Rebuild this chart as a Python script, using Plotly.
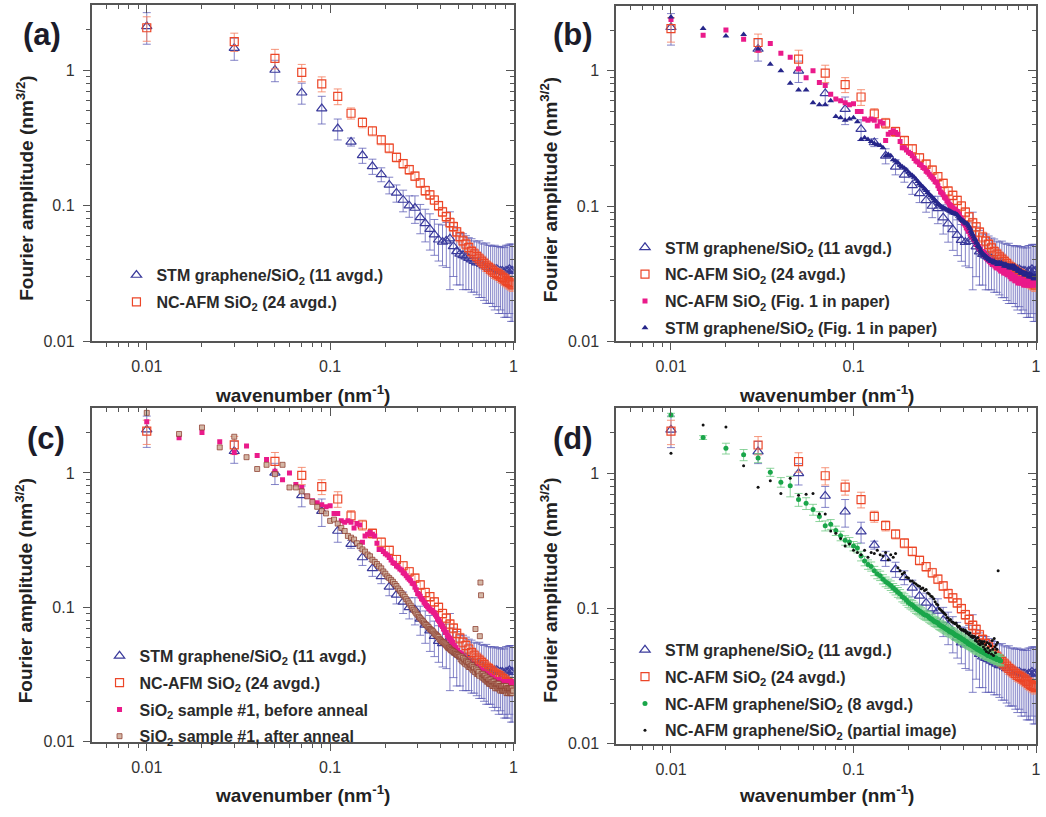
import numpy as np
import plotly.graph_objects as go

# ---------------- data ----------------
# averaged spectra: wavenumber grid every 0.02 nm^-1
k_avg = np.round(np.arange(0.01, 1.0, 0.02), 3)

stm_avg = [2.1, 1.45, 1.0, 0.68, 0.52, 0.37, 0.295, 0.235, 0.195, 0.17,
           0.142, 0.124, 0.11, 0.1, 0.096, 0.082, 0.074, 0.067, 0.061, 0.056,
           0.054, 0.055, 0.057, 0.05, 0.046, 0.044, 0.043, 0.042, 0.041, 0.04,
           0.039, 0.038, 0.038, 0.037, 0.036, 0.036, 0.035, 0.035, 0.034, 0.034,
           0.034, 0.033, 0.033, 0.033, 0.032, 0.033, 0.033, 0.034, 0.033, 0.033]
stm_err = [0.55, 0.27, 0.18, 0.12, 0.12, 0.065, 0.02, 0.03, 0.025, 0.02,
           0.02, 0.018, 0.02, 0.018, 0.022, 0.02, 0.02, 0.02, 0.018, 0.017,
           0.018, 0.02, 0.033, 0.02, 0.02, 0.018, 0.019, 0.018, 0.017, 0.017,
           0.016, 0.016, 0.017, 0.016, 0.016, 0.017, 0.016, 0.016, 0.016, 0.017,
           0.016, 0.017, 0.016, 0.017, 0.017, 0.018, 0.018, 0.018, 0.019, 0.019]

afm_avg = [2.05, 1.62, 1.22, 0.96, 0.79, 0.64, 0.48, 0.41, 0.355, 0.305,
           0.265, 0.227, 0.204, 0.184, 0.165, 0.147, 0.129, 0.12, 0.11, 0.1,
           0.09, 0.083, 0.075, 0.07, 0.064, 0.059, 0.055, 0.052, 0.049, 0.046,
           0.044, 0.042, 0.0405, 0.039, 0.0375, 0.036, 0.035, 0.034, 0.033, 0.032,
           0.0315, 0.031, 0.0302, 0.0295, 0.0288, 0.028, 0.0275, 0.027, 0.0265, 0.026]
afm_err = [0.42, 0.25, 0.2, 0.14, 0.1, 0.085, 0.045, 0.035, 0.028, 0.024,
           0.02, 0.017, 0.015, 0.014, 0.012, 0.011, 0.01, 0.009, 0.008, 0.0075,
           0.007, 0.0065, 0.006, 0.0055, 0.005, 0.005, 0.0045, 0.0045, 0.0042, 0.004,
           0.004, 0.0038, 0.0036, 0.0035, 0.0034, 0.0033, 0.0032, 0.0031, 0.003, 0.003,
           0.003, 0.003, 0.003, 0.0029, 0.0029, 0.0028, 0.0028, 0.0028, 0.0027, 0.0027]

# single-image spectra: wavenumber grid every 0.005 nm^-1
k_fine = np.round(np.arange(0.01, 0.9975, 0.005), 4)

afm_fig1 = [2.4, 1.83, 2.0, 1.71, 1.42, 1.59, 1.35, 1.26, 1.03, 0.89,
            1.0, 0.82, 0.78, 0.67, 0.62, 0.60, 0.58, 0.56, 0.57, 0.50,
            0.50, 0.44, 0.43, 0.44, 0.43, 0.39, 0.42, 0.41, 0.305, 0.34,
            0.35, 0.36, 0.35, 0.34, 0.30, 0.27, 0.27, 0.26, 0.25, 0.245,
            0.235, 0.225, 0.215, 0.212, 0.203, 0.20, 0.193, 0.19, 0.181, 0.178,
            0.172, 0.166, 0.162, 0.158, 0.151, 0.15, 0.141, 0.135, 0.127, 0.125,
            0.121, 0.116, 0.114, 0.109, 0.107, 0.103, 0.101, 0.098, 0.097, 0.094,
            0.095, 0.092, 0.091, 0.088, 0.086, 0.082, 0.08, 0.078, 0.075, 0.074,
            0.072, 0.069, 0.068, 0.065, 0.065, 0.062, 0.061, 0.059, 0.059, 0.057,
            0.056, 0.055, 0.052, 0.052, 0.05, 0.05, 0.048, 0.048, 0.046, 0.046,
            0.046, 0.044, 0.045, 0.043, 0.043, 0.041, 0.042, 0.04, 0.04, 0.039,
            0.04, 0.038, 0.039, 0.037, 0.038, 0.037, 0.037, 0.036, 0.037, 0.035,
            0.036, 0.035, 0.035, 0.036, 0.034, 0.035, 0.033, 0.035, 0.034, 0.033,
            0.034, 0.032, 0.034, 0.033, 0.032, 0.032, 0.033, 0.031, 0.032, 0.032,
            0.031, 0.032, 0.030, 0.031, 0.031, 0.029, 0.031, 0.03, 0.029, 0.03,
            0.03, 0.028, 0.03, 0.029, 0.028, 0.029, 0.029, 0.027, 0.029, 0.028,
            0.029, 0.027, 0.029, 0.028, 0.027, 0.029, 0.028, 0.027, 0.028, 0.026,
            0.028, 0.028, 0.026, 0.028, 0.027, 0.028, 0.026, 0.027, 0.028, 0.026,
            0.027, 0.028, 0.026, 0.027, 0.028, 0.026, 0.027, 0.028, 0.026, 0.027,
            0.028, 0.026, 0.028, 0.027, 0.028, 0.026, 0.027, 0.028]

stm_fig1 = [2.5, 2.06, 1.81, 1.86, 1.45, 1.12, 1.0, 0.81, 0.72, 0.72,
            0.58, 0.56, 0.56, 0.60, 0.46, 0.45, 0.43, 0.44, 0.45, 0.42,
            0.31, 0.32, 0.31, 0.30, 0.29, 0.285, 0.28, 0.27, 0.234, 0.24,
            0.235, 0.22, 0.215, 0.21, 0.2, 0.195, 0.19, 0.185, 0.178, 0.172,
            0.168, 0.163, 0.158, 0.152, 0.147, 0.142, 0.138, 0.134, 0.13, 0.126,
            0.122, 0.119, 0.116, 0.113, 0.11, 0.107, 0.104, 0.102, 0.1, 0.098,
            0.097, 0.096, 0.095, 0.094, 0.093, 0.092, 0.091, 0.09, 0.089, 0.088,
            0.088, 0.087, 0.086, 0.084, 0.082, 0.081, 0.079, 0.078, 0.077, 0.076,
            0.075, 0.074, 0.074, 0.072, 0.07, 0.068, 0.065, 0.063, 0.061, 0.059,
            0.057, 0.056, 0.054, 0.053, 0.051, 0.05, 0.049, 0.047, 0.046, 0.045,
            0.044, 0.044, 0.043, 0.043, 0.042, 0.042, 0.041, 0.041, 0.04, 0.04,
            0.04, 0.039, 0.039, 0.039, 0.039, 0.038, 0.039, 0.038, 0.038, 0.038,
            0.038, 0.037, 0.038, 0.037, 0.038, 0.037, 0.037, 0.038, 0.037, 0.037,
            0.037, 0.037, 0.036, 0.037, 0.036, 0.037, 0.036, 0.036, 0.036, 0.036,
            0.036, 0.035, 0.036, 0.035, 0.036, 0.035, 0.035, 0.036, 0.035, 0.035,
            0.036, 0.035, 0.034, 0.035, 0.034, 0.034, 0.034, 0.033, 0.034, 0.033,
            0.033, 0.033, 0.033, 0.032, 0.033, 0.032, 0.032, 0.032, 0.032, 0.032,
            0.032, 0.031, 0.032, 0.031, 0.031, 0.032, 0.031, 0.031, 0.031, 0.031,
            0.031, 0.03, 0.031, 0.03, 0.031, 0.03, 0.03, 0.031, 0.03, 0.03,
            0.03, 0.03, 0.029, 0.03, 0.03, 0.029, 0.03, 0.03]

afm_annealed = [2.8, 1.95, 2.18, 1.55, 1.86, 1.31, 1.07, 1.15, 0.98, 1.15,
                0.78, 0.78, 0.73, 0.67, 0.61, 0.56, 0.52, 0.5, 0.44, 0.45,
                0.42, 0.39, 0.37, 0.34, 0.33, 0.32, 0.3, 0.285, 0.27, 0.26,
                0.247, 0.24, 0.226, 0.218, 0.21, 0.202, 0.195, 0.185, 0.178, 0.17,
                0.165, 0.16, 0.155, 0.149, 0.144, 0.138, 0.133, 0.128, 0.124, 0.12,
                0.115, 0.111, 0.107, 0.103, 0.099, 0.096, 0.093, 0.09, 0.088, 0.085,
                0.083, 0.081, 0.079, 0.077, 0.075, 0.074, 0.072, 0.071, 0.069, 0.068,
                0.067, 0.066, 0.064, 0.063, 0.062, 0.061, 0.06, 0.058, 0.057, 0.056,
                0.055, 0.055, 0.054, 0.053, 0.052, 0.051, 0.05, 0.05, 0.049, 0.048,
                0.048, 0.047, 0.047, 0.046, 0.046, 0.045, 0.045, 0.044, 0.044, 0.043,
                0.043, 0.041, 0.043, 0.04, 0.042, 0.039, 0.041, 0.038, 0.04, 0.039,
                0.037, 0.039, 0.036, 0.038, 0.036, 0.037, 0.035, 0.037, 0.034, 0.036,
                0.035, 0.033, 0.069, 0.035, 0.032, 0.034, 0.032, 0.033, 0.031, 0.061,
                0.153, 0.123, 0.032, 0.03, 0.032, 0.03, 0.031, 0.029, 0.031, 0.029,
                0.03, 0.028, 0.03, 0.028, 0.029, 0.027, 0.029, 0.027, 0.029, 0.027,
                0.028, 0.026, 0.028, 0.026, 0.028, 0.026, 0.027, 0.025, 0.027, 0.026,
                0.027, 0.025, 0.027, 0.025, 0.027, 0.025, 0.026, 0.024, 0.026, 0.025,
                0.026, 0.024, 0.026, 0.024, 0.026, 0.024, 0.026, 0.024, 0.025, 0.024,
                0.026, 0.023, 0.025, 0.024, 0.025, 0.023, 0.025, 0.024, 0.025, 0.023,
                0.025, 0.023, 0.025, 0.023, 0.025, 0.023, 0.024, 0.024]

# NC-AFM graphene/SiO2 (8 averaged), wavenumbers 0.01 ... 0.64
k_gr = np.round(np.arange(0.01, 0.6425, 0.005), 4)
gr_avg = [2.7, 1.84, 1.53, 1.37, 1.3, 1.02, 0.86, 0.81, 0.64, 0.6,
          0.54, 0.48, 0.41, 0.42, 0.377, 0.345, 0.32, 0.31, 0.29, 0.28,
          0.245, 0.225, 0.212, 0.205, 0.19, 0.18, 0.175, 0.165, 0.158, 0.153,
          0.148, 0.142, 0.137, 0.132, 0.128, 0.122, 0.119, 0.115, 0.111, 0.108,
          0.106, 0.103, 0.1, 0.098, 0.096, 0.094, 0.092, 0.09, 0.089, 0.088,
          0.086, 0.084, 0.083, 0.081, 0.08, 0.079, 0.078, 0.076, 0.075, 0.074,
          0.073, 0.072, 0.071, 0.07, 0.069, 0.068, 0.067, 0.067, 0.066, 0.065,
          0.064, 0.063, 0.063, 0.062, 0.061, 0.061, 0.06, 0.059, 0.059, 0.058,
          0.057, 0.057, 0.056, 0.055, 0.055, 0.054, 0.054, 0.053, 0.053, 0.052,
          0.052, 0.051, 0.051, 0.05, 0.05, 0.05, 0.049, 0.049, 0.048, 0.048,
          0.048, 0.047, 0.047, 0.047, 0.046, 0.046, 0.046, 0.045, 0.045, 0.045,
          0.045, 0.044, 0.044, 0.044, 0.044, 0.043, 0.043, 0.043, 0.043, 0.043,
          0.042, 0.042, 0.042, 0.042, 0.042, 0.041, 0.041]
gr_err = [0.08, 0.06, 0.14, 0.13, 0.1, 0.07, 0.07, 0.14, 0.07, 0.06,
          0.05, 0.04, 0.035, 0.035, 0.03, 0.028, 0.026, 0.025, 0.023, 0.022,
          0.02, 0.018, 0.017, 0.016, 0.015, 0.014, 0.014, 0.013, 0.013, 0.012,
          0.012, 0.011, 0.011, 0.011, 0.01, 0.01, 0.0095, 0.0092, 0.009, 0.0087,
          0.0085, 0.0083, 0.008, 0.0078, 0.0077, 0.0075, 0.0074, 0.0072, 0.0071, 0.007,
          0.0069, 0.0067, 0.0066, 0.0065, 0.0064, 0.0063, 0.0062, 0.0061, 0.006, 0.0059,
          0.0058, 0.0058, 0.0057, 0.0056, 0.0055, 0.0054, 0.0054, 0.0054, 0.0053, 0.0052,
          0.0051, 0.005, 0.005, 0.005, 0.0049, 0.0049, 0.0048, 0.0047, 0.0047, 0.0046,
          0.0046, 0.0046, 0.0045, 0.0044, 0.0044, 0.0043, 0.0043, 0.0042, 0.0042, 0.0042,
          0.0042, 0.0041, 0.0041, 0.004, 0.004, 0.004, 0.0039, 0.0039, 0.0038, 0.0038,
          0.0038, 0.0038, 0.0038, 0.0038, 0.0037, 0.0037, 0.0037, 0.0036, 0.0036, 0.0036,
          0.0036, 0.0035, 0.0035, 0.0035, 0.0035, 0.0034, 0.0034, 0.0034, 0.0034, 0.0034,
          0.0034, 0.0034, 0.0034, 0.0034, 0.0034, 0.0033, 0.0033]

# NC-AFM graphene/SiO2 partial image, wavenumbers 0.01 ... 0.62
k_part = np.round(np.arange(0.01, 0.6225, 0.005), 4)
gr_partial = [1.41, 2.28, 2.2, 1.14, 0.79, 0.88, 0.71, 0.92, 0.69, 0.7,
              0.71, 0.5, 0.5, 0.375, 0.36, 0.33, 0.29, 0.3, 0.27, 0.26,
              0.25, 0.27, 0.24, 0.26, 0.255, 0.27, 0.25, 0.245, 0.26, 0.23,
              0.25, 0.24, 0.255, 0.2, 0.19, 0.18, 0.185, 0.17, 0.168, 0.16,
              0.16, 0.155, 0.152, 0.148, 0.146, 0.14, 0.142, 0.136, 0.138, 0.13,
              0.128, 0.124, 0.122, 0.118, 0.112, 0.108, 0.106, 0.1, 0.098, 0.096,
              0.094, 0.092, 0.09, 0.086, 0.085, 0.082, 0.083, 0.08, 0.079, 0.078,
              0.077, 0.078, 0.075, 0.073, 0.074, 0.071, 0.07, 0.069, 0.07, 0.068,
              0.069, 0.066, 0.067, 0.065, 0.064, 0.066, 0.062, 0.063, 0.061, 0.062,
              0.062, 0.058, 0.06, 0.057, 0.061, 0.055, 0.058, 0.054, 0.056, 0.057,
              0.055, 0.052, 0.057, 0.05, 0.054, 0.048, 0.056, 0.051, 0.047, 0.055,
              0.049, 0.053, 0.046, 0.058, 0.05, 0.045, 0.06, 0.052, 0.047, 0.054,
              0.05, 0.056, 0.19]

# ---------------- styling ----------------
FONT = "Liberation Sans, Arial, sans-serif"
AXIS_C = "#555555"
STM_C, STM_EC = "#3b3b9c", "rgba(90,90,180,0.75)"
AFM_C, AFM_EC = "#ec4628", "rgba(244,130,100,0.85)"
PINK_C = "#ea1a8a"
BLUE_C = "#26268a"
GREEN_C, GREEN_EC = "#1aa64a", "rgba(110,200,130,0.8)"

X_RANGE = [np.log10(0.005), 0]
Y_RANGE = [-2, 0.48]

domains = {
    1: ([92 / 1046, 516 / 1046], [1 - 345 / 817, 1 - 5 / 817]),
    2: ([619 / 1046, 1041 / 1046], [1 - 345 / 817, 1 - 6 / 817]),
    3: ([92 / 1046, 516 / 1046], [1 - 750 / 817, 1 - 413 / 817]),
    4: ([619 / 1046, 1041 / 1046], [1 - 752 / 817, 1 - 413 / 817]),
}

x_minor = [0.006, 0.007, 0.008, 0.009] + [m / 100 for m in range(2, 10)] + [m / 10 for m in range(2, 10)]
y_minor = [m / 100 for m in range(2, 10)] + [m / 10 for m in range(2, 10)] + [2]
majors = [0.01, 0.1, 1]
major_text = ["0.01", "0.1", "1"]

fig = go.Figure()


def sfx(i):
    return "" if i == 1 else str(i)


def add_stm_avg(i):
    fig.add_trace(go.Scatter(
        x=k_avg, y=stm_avg, mode="markers",
        error_y=dict(type="data", array=stm_err, color=STM_EC, thickness=1, width=4),
        marker=dict(symbol="triangle-up-open", size=9, color=STM_C, line=dict(width=1.2)),
        name="STM graphene/SiO<sub>2</sub> (11 avgd.)",
        xaxis="x" + sfx(i), yaxis="y" + sfx(i), legend="legend" + sfx(i),
        legendgroup="stm%d" % i))


def add_afm_avg(i):
    fig.add_trace(go.Scatter(
        x=k_avg, y=afm_avg, mode="markers",
        error_y=dict(type="data", array=afm_err, color=AFM_EC, thickness=1, width=4),
        marker=dict(symbol="square-open", size=8, color=AFM_C, line=dict(width=1.2)),
        name="NC-AFM SiO<sub>2</sub> (24 avgd.)",
        xaxis="x" + sfx(i), yaxis="y" + sfx(i), legend="legend" + sfx(i),
        legendgroup="afm%d" % i))


def add_points(i, x, y, name, marker, err=None, errc=None):
    kw = {}
    if err is not None:
        kw["error_y"] = dict(type="data", array=err, color=errc, thickness=1, width=4)
    fig.add_trace(go.Scatter(
        x=x, y=y, mode="markers", marker=marker, name=name,
        xaxis="x" + sfx(i), yaxis="y" + sfx(i), legend="legend" + sfx(i),
        legendgroup=name + str(i), **kw))


# (a)
add_stm_avg(1)
add_afm_avg(1)
# (b)
add_stm_avg(2)
add_afm_avg(2)
add_points(2, k_fine, afm_fig1, "NC-AFM SiO<sub>2</sub> (Fig. 1 in paper)",
           dict(symbol="square", size=5, color=PINK_C))
add_points(2, k_fine, stm_fig1, "STM graphene/SiO<sub>2</sub> (Fig. 1 in paper)",
           dict(symbol="triangle-up", size=6, color=BLUE_C))
# (c)
add_stm_avg(3)
add_afm_avg(3)
add_points(3, k_fine, afm_fig1, "SiO<sub>2</sub> sample #1, before anneal",
           dict(symbol="square", size=5, color=PINK_C))
add_points(3, k_fine, afm_annealed, "SiO<sub>2</sub> sample #1, after anneal",
           dict(symbol="square", size=5, color="rgba(205,170,150,0.85)",
                line=dict(width=1, color="rgba(140,60,45,0.75)")))
# (d)
add_stm_avg(4)
add_afm_avg(4)
add_points(4, k_gr, gr_avg, "NC-AFM graphene/SiO<sub>2</sub> (8 avgd.)",
           dict(symbol="circle", size=5, color=GREEN_C), err=gr_err, errc=GREEN_EC)
add_points(4, k_part, gr_partial, "NC-AFM graphene/SiO<sub>2</sub> (partial image)",
           dict(symbol="circle", size=3, color="#111111"))

layout = dict(
    width=1046, height=817, margin=dict(l=0, r=0, t=0, b=0),
    paper_bgcolor="white", plot_bgcolor="white",
    font=dict(family=FONT, color="#1a1a1a"),
    showlegend=True,
)

tickfont = dict(family=FONT, size=16, color="#333333")
for i in range(1, 5):
    xd, yd = domains[i]
    layout["xaxis" + sfx(i)] = dict(
        domain=xd, anchor="y" + sfx(i), type="log", range=X_RANGE,
        showline=True, linecolor=AXIS_C, linewidth=1.6, mirror=True,
        ticks="outside", ticklen=7, tickwidth=1.2, tickcolor=AXIS_C,
        tickvals=majors, ticktext=major_text, tickfont=tickfont,
        ticklabelstandoff=3,
        minor=dict(tickmode="array", tickvals=x_minor, ticks="outside",
                   ticklen=4, tickwidth=1, tickcolor=AXIS_C, showgrid=False),
        showgrid=False, zeroline=False, fixedrange=True)
    layout["yaxis" + sfx(i)] = dict(
        domain=yd, anchor="x" + sfx(i), type="log", range=Y_RANGE,
        showline=True, linecolor=AXIS_C, linewidth=1.6, mirror=True,
        ticks="outside", ticklen=7, tickwidth=1.2, tickcolor=AXIS_C,
        tickvals=majors, ticktext=major_text, tickfont=tickfont,
        ticklabelstandoff=5,
        minor=dict(tickmode="array", tickvals=y_minor, ticks="outside",
                   ticklen=4, tickwidth=1, tickcolor=AXIS_C, showgrid=False),
        showgrid=False, zeroline=False, fixedrange=True)
    # inward ticks along the top and right frame
    j = str(i + 4)
    layout["xaxis" + j] = dict(
        overlaying="x" + sfx(i), anchor="y" + j, side="top", type="log", range=X_RANGE,
        showline=False, ticks="inside", ticklen=8, tickwidth=1.2, tickcolor=AXIS_C,
        tickvals=majors, showticklabels=False,
        minor=dict(tickmode="array", tickvals=x_minor, ticks="inside",
                   ticklen=4, tickwidth=1, tickcolor=AXIS_C, showgrid=False),
        showgrid=False, zeroline=False, fixedrange=True)
    layout["yaxis" + j] = dict(
        overlaying="y" + sfx(i), anchor="x" + j, side="right", type="log", range=Y_RANGE,
        showline=False, ticks="inside", ticklen=8, tickwidth=1.2, tickcolor=AXIS_C,
        tickvals=majors, showticklabels=False,
        minor=dict(tickmode="array", tickvals=y_minor, ticks="inside",
                   ticklen=4, tickwidth=1, tickcolor=AXIS_C, showgrid=False),
        showgrid=False, zeroline=False, fixedrange=True)
    fig.add_trace(go.Scatter(x=[None], y=[None], mode="markers", showlegend=False,
                             hoverinfo="skip", xaxis="x" + j, yaxis="y" + j))

legend_font = dict(family=FONT, size=16, color="#2a2a2a", weight="bold")
legend_pos = {1: (117, 261), 2: (628, 233), 3: (100, 646), 4: (628, 640)}
for i, (px, py) in legend_pos.items():
    layout["legend" + sfx(i)] = dict(
        x=px / 1046, y=1 - py / 817, xanchor="left", yanchor="top",
        bgcolor="rgba(0,0,0,0)", font=legend_font, tracegroupgap=3,
        itemclick=False, itemdoubleclick=False)

annotations = []
title_font = dict(family=FONT, size=19, color="#222222", weight="bold")
for i, (tx, xt_y, yt_y, lx, ly, lab) in {
    1: (304, 398, 190, 42, 35, "(a)"),
    2: (830, 398, 192, 576, 35, "(b)"),
    3: (304, 803, 597, 46, 443, "(c)"),
    4: (830, 803, 597, 576, 443, "(d)"),
}.items():
    ytx = 25 if i in (1, 3) else 552
    annotations.append(dict(text="wavenumber (nm<sup>-1</sup>)", x=tx / 1046, y=1 - xt_y / 817,
                            xref="paper", yref="paper", showarrow=False,
                            xanchor="center", yanchor="middle", font=title_font))
    annotations.append(dict(text="Fourier amplitude (nm<sup>3/2</sup>)", x=ytx / 1046, y=1 - yt_y / 817,
                            xref="paper", yref="paper", showarrow=False, textangle=-90,
                            xanchor="center", yanchor="middle", font=title_font))
    annotations.append(dict(text=lab, x=lx / 1046, y=1 - ly / 817, xref="paper", yref="paper",
                            showarrow=False, xanchor="center", yanchor="middle",
                            font=dict(family=FONT, size=31, color="#1c1c2a", weight="bold")))
layout["annotations"] = annotations

fig.update_layout(**layout)
fig.write_html("out.html")
